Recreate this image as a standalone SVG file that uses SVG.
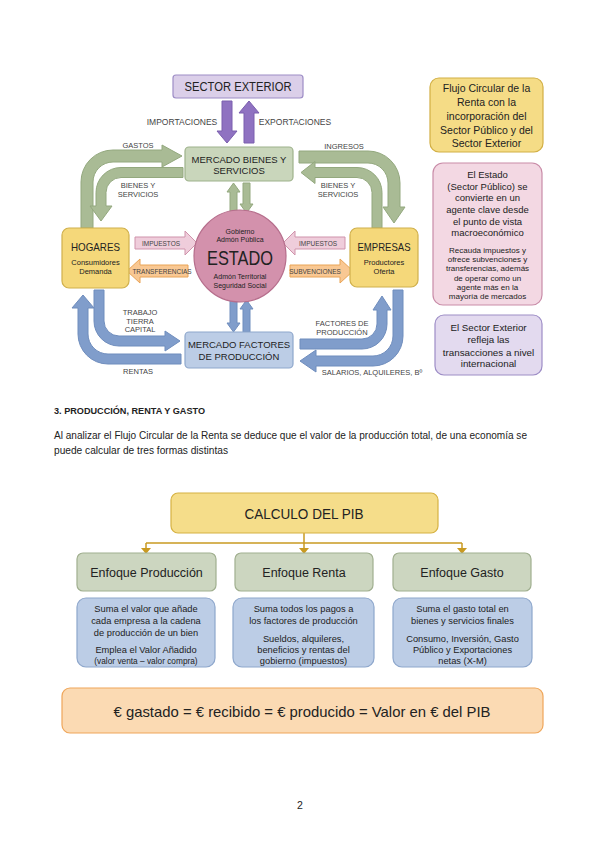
<svg xmlns="http://www.w3.org/2000/svg" width="599" height="848" viewBox="0 0 599 848">
<style>
text{font-family:"Liberation Sans",Arial,sans-serif;fill:#222;text-anchor:middle}
.lbl{font-size:7.5px;fill:#444}
.g{fill:#a9bb95;stroke:#93a87e;stroke-width:1}
.b{fill:#809dcb;stroke:#6f8dbd;stroke-width:1}
.p{fill:#8f72c1;stroke:#7a5eae;stroke-width:1}
.pk{fill:#efcddb;stroke:#cf93ab;stroke-width:1}
.or{fill:#f9c893;stroke:#e9a457;stroke-width:1}
.box{stroke-width:1.2}
</style>
<rect width="599" height="848" fill="#fff"/>

<g id="connectors">
  <path class="p" d="M222,101 L232,101 L232,131 L237,131 L227,143 L217,131 L222,131 Z"/>
  <path class="p" d="M244,143 L244,113 L239,113 L249,101 L259,113 L254,113 L254,143 Z"/>
  <path class="g" d="M81,228 L81,182 A32,32 0 0 1 113,150 L162,150 L162,145 L182,156 L162,167 L162,162 L113,162 A20,20 0 0 0 93,182 L93,228 Z"/>
  <path class="g" d="M183,167.5 L121,167.5 A25,25 0 0 0 96,192.5 L96,206 L90,206 L101,221 L112,206 L106,206 L106,192.5 A15,15 0 0 1 121,177.5 L183,177.5 Z"/>
  <path class="g" d="M299,151 L368,151 A32,32 0 0 1 400,183 L400,207 L405,207 L394,223 L383,207 L388,207 L388,183 A20,20 0 0 0 368,163 L299,163 Z"/>
  <path class="g" d="M372,228 L372,192.5 A15,15 0 0 0 357,177.5 L315,177.5 L315,183.5 L301,172.5 L315,161.5 L315,167.5 L357,167.5 A25,25 0 0 1 382,192.5 L382,228 Z"/>
  <path class="g" d="M230,213 L230,192 L227,192 L233.5,183 L240,192 L237,192 L237,213 Z"/>
  <path class="g" d="M243,183 L243,204 L240,204 L246.5,213 L253,204 L250,204 L250,183 Z"/>
  <path class="b" d="M181,354 L108,354 A20,20 0 0 1 88,334 L88,308 L94,308 L83,295 L72,308 L78,308 L78,334 A30,30 0 0 0 108,364 L181,364 Z"/>
  <path class="b" d="M94,290 L94,321 A25,25 0 0 0 119,346 L165,346 L165,351 L180,341 L165,331 L165,336 L119,336 A15,15 0 0 1 104,321 L104,290 Z"/>
  <path class="b" d="M300,339 L362,339 A15,15 0 0 0 377,324 L377,310 L373,310 L382,296 L391,310 L387,310 L387,324 A25,25 0 0 1 362,349 L300,349 Z"/>
  <path class="b" d="M393,290 L393,336 A20,20 0 0 1 373,356 L316,356 L316,350 L300,361 L316,372 L316,366 L373,366 A30,30 0 0 0 403,336 L403,290 Z"/>
  <path class="b" d="M230,300 L230,323 L227,323 L233.5,332 L240,323 L237,323 L237,300 Z"/>
  <path class="b" d="M243,332 L243,309 L240,309 L246.5,300 L253,309 L250,309 L250,332 Z"/>
  <path class="pk" d="M135,237 L185,237 L185,231 L197,243 L185,255 L185,249 L135,249 Z"/>
  <path class="pk" d="M345,237 L295,237 L295,231 L283,243 L295,255 L295,249 L345,249 Z"/>
  <path class="or" d="M188,265 L140,265 L140,259 L127,271 L140,283 L140,277 L188,277 Z"/>
  <path class="or" d="M290,265 L340,265 L340,259 L353,271 L340,283 L340,277 L290,277 Z"/>
  <g fill="none" stroke="#c99a22" stroke-width="1.5">
    <path d="M304,533 L304,543 M146,543 L462,543 M146,543 L146,550 M304,543 L304,550 M462,543 L462,550"/>
  </g>
  <g fill="#c99a22">
    <path d="M141,548 L151,548 L146,554 Z"/>
    <path d="M299,548 L309,548 L304,554 Z"/>
    <path d="M457,548 L467,548 L462,554 Z"/>
  </g>
</g>

<g id="labels">
  <text class="lbl" x="182" y="125" style="font-size:8.5px">IMPORTACIONES</text>
  <text class="lbl" x="295" y="125" style="font-size:8.5px">EXPORTACIONES</text>
  <text class="lbl" x="138" y="148">GASTOS</text>
  <text class="lbl" x="138" y="188">BIENES Y</text>
  <text class="lbl" x="138" y="197">SERVICIOS</text>
  <text class="lbl" x="344" y="149">INGRESOS</text>
  <text class="lbl" x="338" y="188">BIENES Y</text>
  <text class="lbl" x="338" y="197">SERVICIOS</text>
  <text class="lbl" x="161" y="246" style="font-size:6.5px">IMPUESTOS</text>
  <text class="lbl" x="318" y="246" style="font-size:6.5px">IMPUESTOS</text>
  <text class="lbl" x="162" y="274" style="font-size:6.5px">TRANSFERENCIAS</text>
  <text class="lbl" x="315" y="274" style="font-size:6.5px">SUBVENCIONES</text>
  <text class="lbl" x="140" y="315">TRABAJO</text>
  <text class="lbl" x="140" y="324">TIERRA</text>
  <text class="lbl" x="140" y="332">CAPITAL</text>
  <text class="lbl" x="138" y="374">RENTAS</text>
  <text class="lbl" x="342" y="326">FACTORES DE</text>
  <text class="lbl" x="342" y="335">PRODUCCIÓN</text>
  <text class="lbl" x="372" y="375">SALARIOS, ALQUILERES, Bº</text>
</g>

<g id="sector-exterior">
  <rect x="173" y="75" width="130" height="23" rx="3" fill="#dbcfe9" stroke="#9d8dc6" class="box"/>
  <text x="238" y="91" style="font-size:12px" textLength="107" lengthAdjust="spacingAndGlyphs">SECTOR EXTERIOR</text>
</g>
<g id="mercado-bienes">
  <rect x="185" y="147" width="108" height="34" rx="4" fill="#c9d6bb" stroke="#9eb28b" class="box"/>
  <text x="239" y="163" style="font-size:9.5px">MERCADO BIENES Y</text>
  <text x="239" y="174" style="font-size:9.5px">SERVICIOS</text>
</g>
<g id="estado">
  <circle cx="240" cy="256" r="46" fill="#d391ac" stroke="#b66e8c" stroke-width="1.2"/>
  <text x="240" y="234" style="font-size:7px">Gobierno</text>
  <text x="240" y="242" style="font-size:7px">Admón Pública</text>
  <text x="240" y="265" style="font-size:20px" textLength="66" lengthAdjust="spacingAndGlyphs">ESTADO</text>
  <text x="240" y="279" style="font-size:7px">Admón Territorial</text>
  <text x="240" y="288" style="font-size:7px">Seguridad Social</text>
</g>
<g id="hogares">
  <rect x="62" y="228" width="67" height="60" rx="7" fill="#f5d87a" stroke="#d0b04c" class="box"/>
  <text x="95.5" y="251" style="font-size:10.5px" textLength="49" lengthAdjust="spacingAndGlyphs">HOGARES</text>
  <text x="95.5" y="265" style="font-size:7.5px">Consumidores</text>
  <text x="95.5" y="274" style="font-size:7.5px">Demanda</text>
</g>
<g id="empresas">
  <rect x="350" y="228" width="68" height="59" rx="7" fill="#f5d87a" stroke="#d0b04c" class="box"/>
  <text x="384" y="251" style="font-size:10.5px" textLength="53" lengthAdjust="spacingAndGlyphs">EMPRESAS</text>
  <text x="384" y="265" style="font-size:7.5px">Productores</text>
  <text x="384" y="274" style="font-size:7.5px">Oferta</text>
</g>
<g id="mercado-factores">
  <rect x="185" y="332" width="108" height="36" rx="4" fill="#bccde6" stroke="#8ea7cc" class="box"/>
  <text x="239" y="348" style="font-size:9.5px">MERCADO FACTORES</text>
  <text x="239" y="360" style="font-size:9.5px">DE PRODUCCIÓN</text>
</g>

<g id="nota-flujo">
  <rect x="430" y="78" width="113" height="74" rx="9" fill="#f5dc86" stroke="#d2af44" class="box"/>
  <text x="486.5" y="92" style="font-size:10.5px">Flujo Circular de la</text>
  <text x="486.5" y="106" style="font-size:10.5px">Renta con la</text>
  <text x="486.5" y="120" style="font-size:10.5px">incorporación del</text>
  <text x="486.5" y="134" style="font-size:10.5px">Sector Público y del</text>
  <text x="486.5" y="147" style="font-size:10.5px">Sector Exterior</text>
</g>
<g id="nota-estado">
  <rect x="433" y="163" width="109" height="142" rx="10" fill="#f3d8e3" stroke="#c98ca8" class="box"/>
  <text x="487.5" y="178" style="font-size:9.5px">El Estado</text>
  <text x="487.5" y="189.5" style="font-size:9.5px">(Sector Público) se</text>
  <text x="487.5" y="201" style="font-size:9.5px">convierte en un</text>
  <text x="487.5" y="213" style="font-size:9.5px">agente clave desde</text>
  <text x="487.5" y="224.5" style="font-size:9.5px">el punto de vista</text>
  <text x="487.5" y="236" style="font-size:9.5px">macroeconómico</text>
  <text x="487.5" y="253" style="font-size:8px">Recauda impuestos y</text>
  <text x="487.5" y="262" style="font-size:8px">ofrece subvenciones y</text>
  <text x="487.5" y="271" style="font-size:8px">transferencias, además</text>
  <text x="487.5" y="280.5" style="font-size:8px">de operar como un</text>
  <text x="487.5" y="290" style="font-size:8px">agente más en la</text>
  <text x="487.5" y="299" style="font-size:8px">mayoría de mercados</text>
</g>
<g id="nota-exterior">
  <rect x="435" y="315" width="107" height="60" rx="9" fill="#e3daef" stroke="#9d8dc6" class="box"/>
  <text x="488.5" y="331" style="font-size:9.8px">El Sector Exterior</text>
  <text x="488.5" y="343" style="font-size:9.8px">refleja las</text>
  <text x="488.5" y="356" style="font-size:9.8px">transacciones a nivel</text>
  <text x="488.5" y="367" style="font-size:9.8px">internacional</text>
</g>

<g id="texto">
  <text x="54" y="414" style="font-size:9.5px;font-weight:bold;text-anchor:start" textLength="151" lengthAdjust="spacingAndGlyphs">3. PRODUCCIÓN, RENTA Y GASTO</text>
  <text x="54" y="439" style="font-size:10px;text-anchor:start" textLength="473" lengthAdjust="spacingAndGlyphs">Al analizar el Flujo Circular de la Renta se deduce que el valor de la producción total, de una economía se</text>
  <text x="54" y="454" style="font-size:10px;text-anchor:start" textLength="174" lengthAdjust="spacingAndGlyphs">puede calcular de tres formas distintas</text>
</g>

<g id="calculo-pib">
  <rect x="171" y="493" width="267" height="40" rx="7" fill="#f5dd8a" stroke="#d6b243" class="box"/>
  <text x="304" y="519" style="font-size:15px" textLength="119" lengthAdjust="spacingAndGlyphs">CALCULO DEL PIB</text>
</g>
<g id="enfoque-produccion">
  <rect x="77" y="553" width="139" height="38" rx="6" fill="#ccd6c0" stroke="#a0af8f" class="box"/>
  <text x="146.5" y="577" style="font-size:12.5px">Enfoque Producción</text>
</g>
<g id="enfoque-renta">
  <rect x="235" y="553" width="138" height="38" rx="6" fill="#ccd6c0" stroke="#a0af8f" class="box"/>
  <text x="304" y="577" style="font-size:12.5px">Enfoque Renta</text>
</g>
<g id="enfoque-gasto">
  <rect x="393" y="553" width="138" height="38" rx="6" fill="#ccd6c0" stroke="#a0af8f" class="box"/>
  <text x="462" y="577" style="font-size:12.5px">Enfoque Gasto</text>
</g>
<g id="desc-produccion">
  <rect x="77" y="598" width="138" height="69" rx="9" fill="#bccde6" stroke="#8ea7cc" class="box"/>
  <text x="146" y="612" style="font-size:9.3px">Suma el valor que añade</text>
  <text x="146" y="624" style="font-size:9.3px">cada empresa a la cadena</text>
  <text x="146" y="636" style="font-size:9.3px">de producción de un bien</text>
  <text x="146" y="653" style="font-size:9.3px">Emplea el Valor Añadido</text>
  <text x="146" y="664" style="font-size:8.3px">(valor venta – valor compra)</text>
</g>
<g id="desc-renta">
  <rect x="233" y="598" width="141" height="69" rx="9" fill="#bccde6" stroke="#8ea7cc" class="box"/>
  <text x="303.5" y="612" style="font-size:9.3px">Suma todos los pagos a</text>
  <text x="303.5" y="624" style="font-size:9.3px">los factores de producción</text>
  <text x="303.5" y="642" style="font-size:9.3px">Sueldos, alquileres,</text>
  <text x="303.5" y="653" style="font-size:9.3px">beneficios y rentas del</text>
  <text x="303.5" y="664" style="font-size:9.3px">gobierno (impuestos)</text>
</g>
<g id="desc-gasto">
  <rect x="393" y="598" width="139" height="69" rx="9" fill="#bccde6" stroke="#8ea7cc" class="box"/>
  <text x="462.5" y="612" style="font-size:9.3px">Suma el gasto total en</text>
  <text x="462.5" y="624" style="font-size:9.3px">bienes y servicios finales</text>
  <text x="462.5" y="642" style="font-size:9.3px">Consumo, Inversión, Gasto</text>
  <text x="462.5" y="653" style="font-size:9.3px">Público y Exportaciones</text>
  <text x="462.5" y="664" style="font-size:9.3px">netas (X-M)</text>
</g>
<g id="igualdad">
  <rect x="62" y="688" width="481" height="45" rx="8" fill="#fbdab3" stroke="#efa65a" class="box"/>
  <text x="302" y="717" style="font-size:15px" textLength="377" lengthAdjust="spacingAndGlyphs">€ gastado = € recibido = € producido = Valor en € del PIB</text>
</g>
<text x="300" y="809" style="font-size:10.5px">2</text>
</svg>
